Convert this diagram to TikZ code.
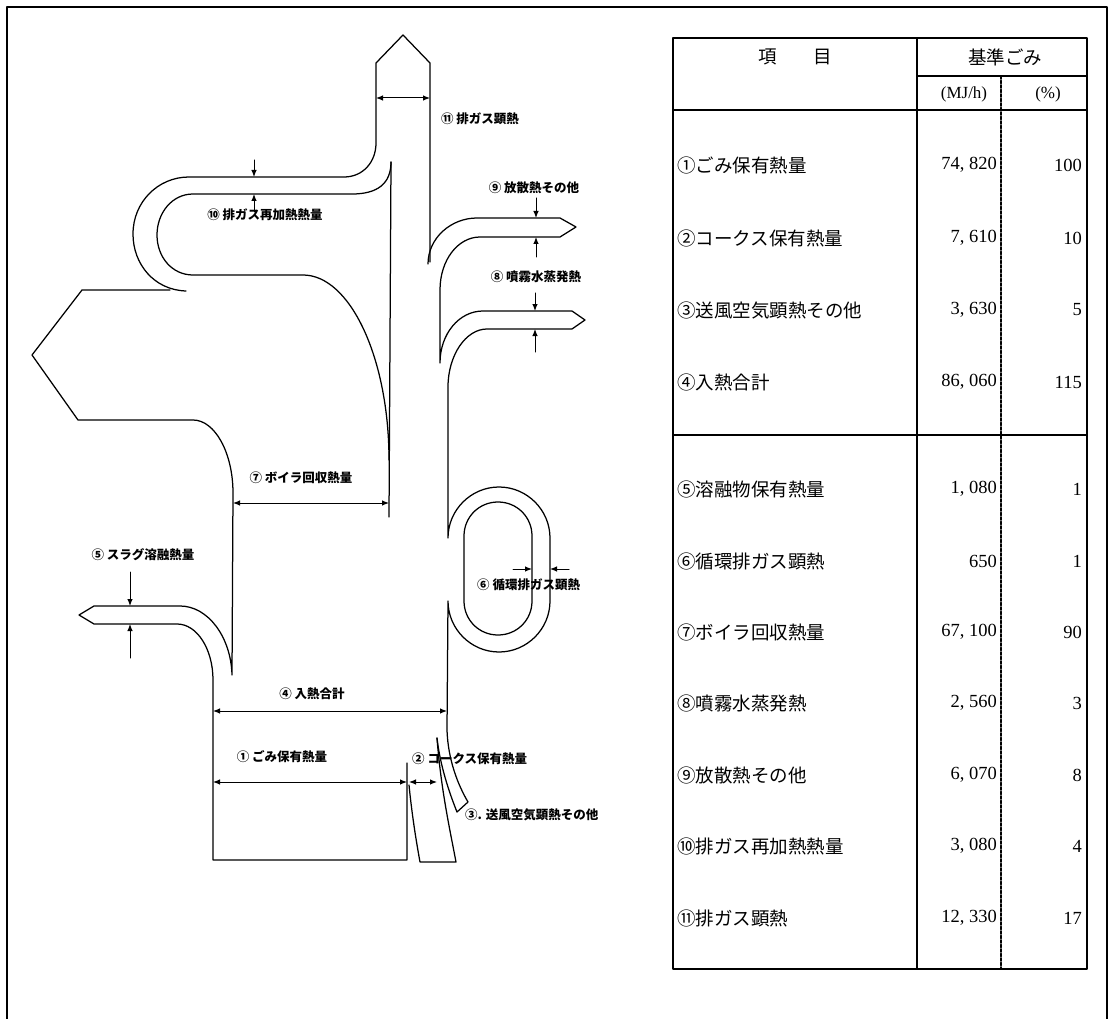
\documentclass[tikz,border=0pt]{standalone}
\usepackage{fontspec}
\newfontfamily\jp{Noto Sans CJK JP}
\newfontfamily\serifso{Liberation Serif}
\usetikzlibrary{arrows.meta}
\begin{document}
\begin{tikzpicture}[x=1pt, y=-1pt, line join=round, line cap=round,
			>={Latex[length=7pt,width=5.5pt]},
			flow/.style={line width=1.25pt},
			dim/.style={line width=1pt},
			khung/.style={line width=2.4pt},
			bang/.style={line width=1.8pt},
			nhan/.style={inner sep=0pt, font=\jp\bfseries\fontsize{12.5}{14}\selectfont},
			chu/.style={inner sep=0pt, font=\jp\fontsize{18.5}{21}\selectfont},
			so/.style={inner sep=0pt, font=\serifso\fontsize{18.5}{21}\selectfont}]
			\useasboundingbox (0,0) rectangle (1109,1019);
			\draw[khung] (7,1030) -- (7,7) -- (1107,7) -- (1107,1030);
			
			% chimney and exhaust gas reheating loop
			\draw[flow] (430,262) -- (430,63) -- (403,35) -- (376,63) -- (376,143)
			.. controls (376,162) and (363,177) .. (344,177) -- (189,177)
			.. controls (158,177) and (133,202) .. (133,234)
			.. controls (133,264) and (154,290) .. (186,291);
			\draw[flow] (391,162) -- (389,517);
			\draw[flow] (391,162) .. controls (391,184) and (377,194) .. (352,194) -- (193,194)
			.. controls (172,194) and (157,213) .. (157,235)
			.. controls (157,257) and (172,275) .. (193,275) -- (303,275)
			.. controls (350,275) and (389,358) .. (389,460);
			% left side
			\draw[flow] (170,290) -- (82,290) -- (32,355) -- (78,420) -- (193,420)
			.. controls (215,420) and (233,453) .. (233,493) -- (232,675)
			.. controls (231,637) and (208,606) .. (180,606) -- (94,606) -- (79,615) -- (94,624) -- (177,624)
			.. controls (197,624) and (213,649) .. (213,680) -- (213,860) -- (407,860) -- (407,763);
			% right side
			\draw[flow] (428,264) .. controls (428,238) and (451,218) .. (477,218) -- (560,218) -- (576,227) -- (560,237) -- (480,237)
			.. controls (458,237) and (440,260) .. (440,290) -- (440,363)
			.. controls (440,334) and (459,311) .. (483,311) -- (572,311) -- (585,320) -- (572,329) -- (487,329)
			.. controls (466,329) and (448,355) .. (448,387) -- (448,538)
			.. controls (448,510) and (471,487) .. (499,487) .. controls (527,487) and (550,510) .. (550,538)
			-- (550,601) .. controls (550,629) and (527,652) .. (499,652) .. controls (471,652) and (448,629) .. (448,601)
			-- (447,730) .. controls (448,760) and (458,785) .. (468,802) -- (457,812)
			.. controls (449,792) and (440,765) .. (437,738);
			\draw[flow] (409,785) .. controls (412,815) and (416,840) .. (420,862) -- (456,862)
			.. controls (450,830) and (441,790) .. (437,738);
			\draw[flow] (464,536) .. controls (464,517) and (479,502) .. (498,502) .. controls (517,502) and (532,517) .. (532,536)
			-- (532,601) .. controls (532,620) and (517,635) .. (498,635) .. controls (479,635) and (464,620) .. (464,601) -- cycle;
			
			\path
			(376,98) coordinate (A1) (430,98) coordinate (A2)
			(233,503) coordinate (B1) (389,503) coordinate (B2)
			(213,711) coordinate (C1) (447,711) coordinate (C2)
			(213,782) coordinate (D1) (407,782) coordinate (D2)
			(409,782) coordinate (E1) (437,782) coordinate (E2)
			(254,160) coordinate (F1) (254,177) coordinate (F2)
			(254,212) coordinate (G1) (254,194) coordinate (G2)
			(536,198) coordinate (H1) (536,218) coordinate (H2)
			(536,257) coordinate (I1) (536,237) coordinate (I2)
			(535,293) coordinate (J1) (535,311) coordinate (J2)
			(535,352) coordinate (K1) (535,329) coordinate (K2)
			(130,572) coordinate (M1) (130,606) coordinate (M2)
			(130,658) coordinate (N1) (130,624) coordinate (N2)
			(513,569) coordinate (P1) (532,569) coordinate (P2)
			(569,569) coordinate (Q1) (550,569) coordinate (Q2)
			;
			\foreach \a/\b in {A1/A2,B1/B2,C1/C2,D1/D2,E1/E2}{
				\draw[dim,<->] (\a)--(\b);
			}
			\foreach \a/\b in {F1/F2,G1/G2,H1/H2,I1/I2,J1/J2,K1/K2,M1/M2,N1/N2,P1/P2,Q1/Q2}{
				\draw[dim,->] (\a)--(\b);
			}
			
			\foreach \ten/\x/\y/\nhan in {L11/480/119/⑪ 排ガス顕熱,L10/265/215/⑩ 排ガス再加熱熱量,L9/534/188/⑨ 放散熱その他,L8/536/277/⑧ 噴霧水蒸発熱,L7/301/478/⑦ ボイラ回収熱量,L5/143/555/⑤ スラグ溶融熱量,L4/312/694/④ 入熱合計,L1/282/757/① ごみ保有熱量}{
				\node[nhan] (\ten) at (\x,\y) {\nhan};
			}
			\node[nhan, anchor=west] (L6) at (477,585) {⑥ 循環排ガス顕熱};
			\node[nhan, anchor=west] (L2) at (412,759) {② コークス保有熱量};
			\node[nhan, anchor=west] (L3) at (465,815) {③. 送風空気顕熱その他};
			
			% table
			\draw[bang] (673,38) rectangle (1087,969);
			\draw[bang] (917,38) -- (917,969);
			\draw[bang] (917,76) -- (1087,76);
			\draw[bang] (673,110) -- (1087,110) (673,435) -- (1087,435);
			\draw[line width=1.4pt, dash pattern=on 3pt off 1.5pt] (1001,76) -- (1001,969);
			\node[chu] (h1) at (795,57) {項　　目};
			\node[chu] (h2) at (1005,57) {基準ごみ};
			\node[so, font=\serifso\fontsize{17}{19}\selectfont] (h3) at (964,94) {(MJ/h)};
			\node[so, font=\serifso\fontsize{17}{19}\selectfont] (h4) at (1048,94) {(\%)};
			\foreach \i/\y/\nhan/\so/\pt in {1/165/①ごみ保有熱量/{74, 820}/100,2/238/②コークス保有熱量/{7, 610}/10,3/310/③送風空気顕熱その他/{3, 630}/5,4/382/④入熱合計/{86, 060}/115,5/489/⑤溶融物保有熱量/{1, 080}/1,6/561/⑥循環排ガス顕熱/650/1,7/632/⑦ボイラ回収熱量/{67, 100}/90,8/703/⑧噴霧水蒸発熱/{2, 560}/3,9/775/⑨放散熱その他/{6, 070}/8,10/846/⑩排ガス再加熱熱量/{3, 080}/4,11/918/⑪排ガス顕熱/{12, 330}/17}{
				\node[chu, anchor=west] (t\i) at (677,\y) {\nhan};
				\node[so, anchor=east] (v\i) at (997,\y) {\so};
				\node[so, anchor=east] (p\i) at (1082,\y) {\pt};
			}
		\end{tikzpicture}
\end{document}
